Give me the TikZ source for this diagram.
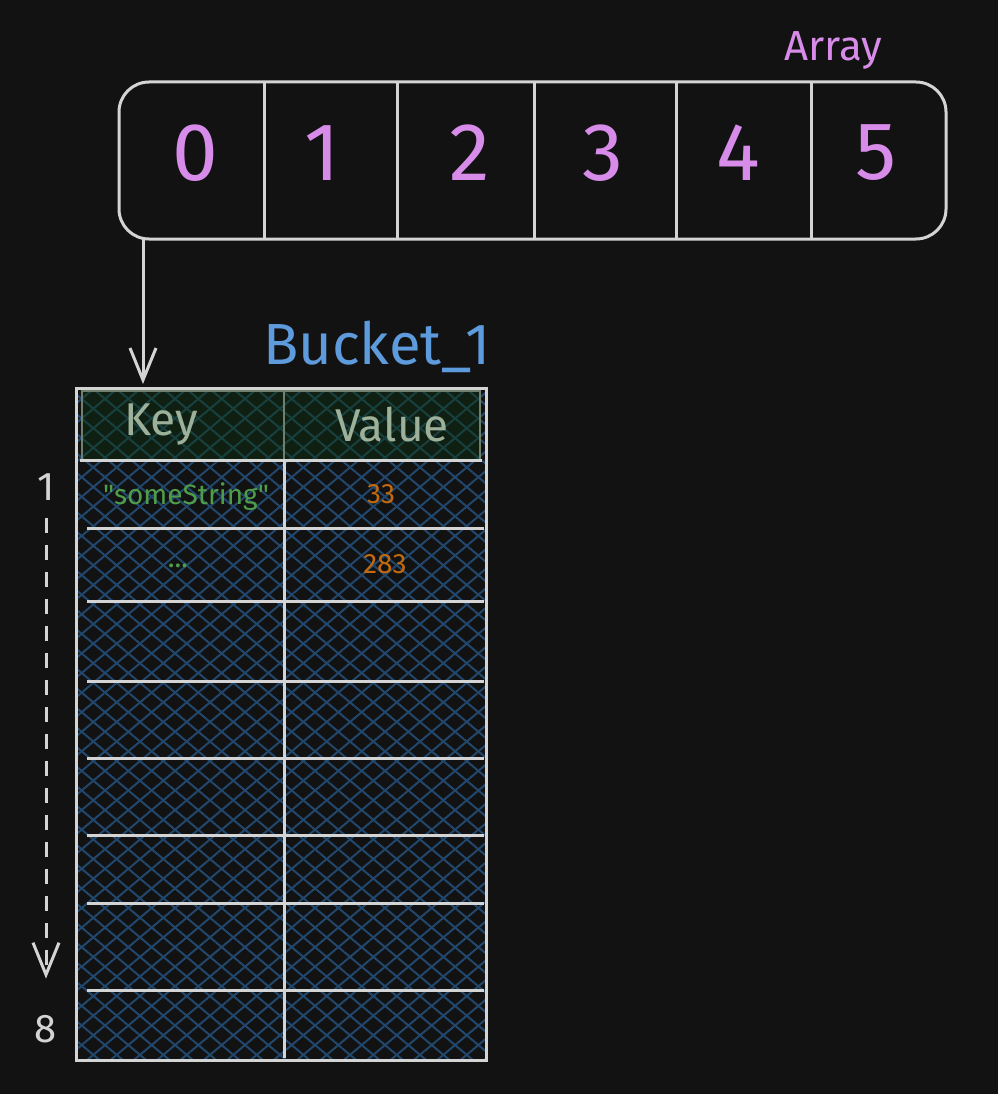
\documentclass[tikz,border=0pt]{standalone}
\usepackage{fontspec}
\setmainfont{Fira Sans}[Ligatures=TeXOff]
\usetikzlibrary{arrows.meta,patterns.meta,positioning}

\definecolor{bgdark}{HTML}{121212}
\definecolor{inkgray}{HTML}{D4D4D4}
\definecolor{arrpurple}{HTML}{D88CE9}
\definecolor{bucketblue}{HTML}{5E9BDD}
\definecolor{hatchblue}{HTML}{22476D}
\definecolor{headgreen}{HTML}{0F2012}
\definecolor{hatchteal}{HTML}{18403F}
\definecolor{headline}{HTML}{6F806C}
\definecolor{headtext}{HTML}{9DB099}
\definecolor{strgreen}{HTML}{4F9C49}
\definecolor{numorange}{HTML}{C36A10}

\tikzset{
  sketch/.style={draw=inkgray, line width=3pt},
  digit/.style={text=arrpurple, font=\fontsize{82}{90}\selectfont},
  headcell/.style={text=headtext, font=\fontsize{46}{50}\selectfont},
  keytext/.style={text=strgreen, font=\fontsize{28}{32}\selectfont},
  valtext/.style={text=numorange, font=\fontsize{28}{32}\selectfont},
  steplabel/.style={text=inkgray, font=\fontsize{40}{44}\selectfont},
  openhead/.style={-{Straight Barb[length=32pt, width=26pt, line width=3pt]}},
}

\begin{document}
\begin{tikzpicture}[x=1pt, y=-1pt]
\useasboundingbox (0,0) rectangle (998,1094);
\fill[bgdark] (0,0) rectangle (998,1094);

% Array of buckets
\draw[sketch, rounded corners=30pt] (119,82) rectangle (946,239);
\foreach \xdiv in {264,397,534,676,811}
  \draw[sketch] (\xdiv,82) -- (\xdiv,239);
\foreach \xd/\dg in {195/0,322/1,470/2,603/3,738/4,876/5}
  \node[digit] (cell\dg) at (\xd,153) {\dg};
\node[text=arrpurple, font=\fontsize{42}{46}\selectfont] (arrayTitle) at (833,51) {Array};

% pointer from slot 0 to the bucket
\coordinate (slotOut) at (143,240);
\coordinate (bucketIn) at (143,384);
\draw[sketch, openhead] (slotOut) -- (bucketIn);

\node[text=bucketblue, font=\fontsize{58}{64}\selectfont] (bucketTitle) at (377,347) {Bucket\_1};

% Bucket table, hatched
\fill[bgdark] (76,388) rectangle (486,1060);
\fill[pattern={Lines[angle=40, distance=15pt, line width=2pt]}, pattern color=hatchblue]
  (76,388) rectangle (486,1060);
\fill[pattern={Lines[angle=-40, distance=15pt, line width=2pt]}, pattern color=hatchblue]
  (76,388) rectangle (486,1060);

% header row
\fill[headgreen] (82,391) rectangle (480,460);
\fill[pattern={Lines[angle=40, distance=15pt, line width=2pt]}, pattern color=hatchteal]
  (82,391) rectangle (480,460);
\fill[pattern={Lines[angle=-40, distance=15pt, line width=2pt]}, pattern color=hatchteal]
  (82,391) rectangle (480,460);
\draw[headline, line width=1.2pt] (82,391) rectangle (480,460);
\draw[headline, line width=1.6pt] (284,391) -- (284,460);

\draw[sketch] (76,388) rectangle (486,1060);
\draw[sketch] (80,460) -- (482,460);
\draw[sketch] (284,460) -- (284,1058);
\foreach \yrow in {528,601,681,758,835,903,990}
  \draw[sketch] (87,\yrow) -- (484,\yrow);

\node[headcell] (keyHead) at (161,425) {Key};
\node[headcell] (valueHead) at (392,425) {Value};

\node[keytext] (keyOne) at (186,497) {"someString"};
\node[valtext] (valOne) at (381,494) {33};
\node[keytext] (keyTwo) at (178,566) {...};
\node[valtext] (valTwo) at (385,564) {283};

% row counter on the left
\node[steplabel] (rowFirst) at (46,487) {1};
\node[steplabel] (rowLast) at (46,1029) {8};
\draw[sketch, dash pattern=on 15pt off 12pt, openhead]
  ([yshift=-14pt]rowFirst.south) -- ([yshift=33pt]rowLast.north);

\end{tikzpicture}
\end{document}
